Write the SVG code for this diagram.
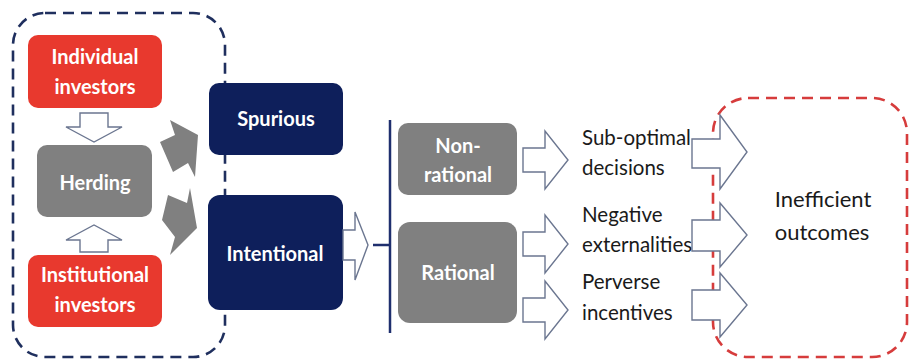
<svg xmlns="http://www.w3.org/2000/svg" width="910" height="363" viewBox="0 0 910 363">
<style>
.bg{fill:#ffffff}
.red{fill:#E8392E}
.navy{fill:#0E1F5B}
.grey{fill:#808080}
.wt{fill:#ffffff;font-family:Lato,"Liberation Sans",sans-serif;font-weight:bold;font-size:20px;text-anchor:middle}
.bt{fill:#1a1a1a;font-family:Lato,"Liberation Sans",sans-serif;font-size:20.5px}
.big{fill:#1a1a1a;font-family:Lato,"Liberation Sans",sans-serif;font-size:22px;text-anchor:middle}
.hollow{fill:#ffffff;stroke:#6B7690;stroke-width:1.4;stroke-linejoin:miter}
.solid{fill:#808080}
.dashblue{fill:none;stroke:#1F2F5E;stroke-width:2.6;stroke-dasharray:11 7}
.dashred{fill:none;stroke:#D63C3C;stroke-width:2.6;stroke-dasharray:11 7}
.line{stroke:#1F2F6E;stroke-width:2.5;fill:none}
</style>
<rect class="bg" x="0" y="0" width="910" height="363"/>

<g id="group-left">
  <rect class="dashblue" x="13" y="13" width="212" height="344" rx="32"/>
</g>
<g id="group-outcomes">
  <rect class="dashred" x="713" y="98" width="194" height="259" rx="35"/>
</g>

<g id="individual">
  <rect class="red" x="28" y="35" width="134" height="73" rx="10"/>
  <text class="wt" x="95" y="64">Individual</text>
  <text class="wt" x="95" y="94">investors</text>
</g>
<g id="herding">
  <rect class="grey" x="37" y="145" width="115" height="72" rx="10"/>
  <text class="wt" x="95" y="190">Herding</text>
</g>
<g id="institutional">
  <rect class="red" x="28" y="255" width="134" height="72" rx="10"/>
  <text class="wt" x="95" y="282">Institutional</text>
  <text class="wt" x="95" y="312">investors</text>
</g>
<g id="spurious">
  <rect class="navy" x="209" y="83" width="134" height="72" rx="10"/>
  <text class="wt" x="276" y="126">Spurious</text>
</g>
<g id="intentional">
  <rect class="navy" x="208" y="195" width="135" height="115" rx="12"/>
  <text class="wt" x="275" y="261">Intentional</text>
</g>
<g id="nonrational">
  <rect class="grey" x="398" y="123" width="119" height="72" rx="10"/>
  <text class="wt" x="458" y="153">Non-</text>
  <text class="wt" x="458" y="182">rational</text>
</g>
<g id="rational">
  <rect class="grey" x="398" y="222" width="119" height="101" rx="12"/>
  <text class="wt" x="458" y="280">Rational</text>
</g>
<g id="suboptimal">
  <text class="bt" x="582" y="145">Sub-optimal</text>
  <text class="bt" x="582" y="175">decisions</text>
</g>
<g id="externalities">
  <text class="bt" x="582" y="222">Negative</text>
  <text class="bt" x="582" y="252">externalities</text>
</g>
<g id="incentives">
  <text class="bt" x="582" y="289">Perverse</text>
  <text class="bt" x="582" y="320">incentives</text>
</g>
<g id="inefficient">
  <text class="big" x="823" y="207">Inefficient</text>
  <text class="big" x="822" y="240">outcomes</text>
</g>

<g id="connectors">
  <!-- individual -> herding -->
  <path class="hollow" d="M80,113 H108 V127 H122 L94,142 L66,127 H80 Z"/>
  <!-- institutional -> herding -->
  <path class="hollow" d="M80,252 H108 V240 H122 L94,225 L66,240 H80 Z"/>
  <!-- herding -> spurious -->
  <polygon class="solid" points="170,120 198,135 195,177 188,163 173,172 160,142 175,135"/>
  <!-- herding -> intentional -->
  <polygon class="solid" points="190,188 197,228 170,255 175,237 162,220 168,195 187,203"/>
  <!-- intentional -> branch -->
  <path class="hollow" d="M343,230 H355 V212 L368,245 L355,280 V260 H343 Z"/>
  <line class="line" x1="373" y1="245" x2="390" y2="245"/>
  <line class="line" x1="390" y1="120" x2="390" y2="333"/>
  <!-- non-rational -> sub-optimal -->
  <path class="hollow" d="M523,148 H545 V131 L568,160 L545,189 V172 H523 Z"/>
  <!-- rational -> negative externalities -->
  <path class="hollow" d="M523,232 H545 V215 L568,244 L545,273 V256 H523 Z"/>
  <!-- rational -> perverse incentives -->
  <path class="hollow" d="M523,298 H545 V281 L568,310 L545,339 V322 H523 Z"/>
  <!-- outcomes arrows -->
  <path class="hollow" d="M692,139 H720 V115 L747,152 L720,189 V168 H692 Z"/>
  <path class="hollow" d="M692,220 H720 V203 L747,235 L720,267 V251 H692 Z"/>
  <path class="hollow" d="M692,290 H720 V273 L747,305 L720,337 V320 H692 Z"/>
</g>
</svg>
